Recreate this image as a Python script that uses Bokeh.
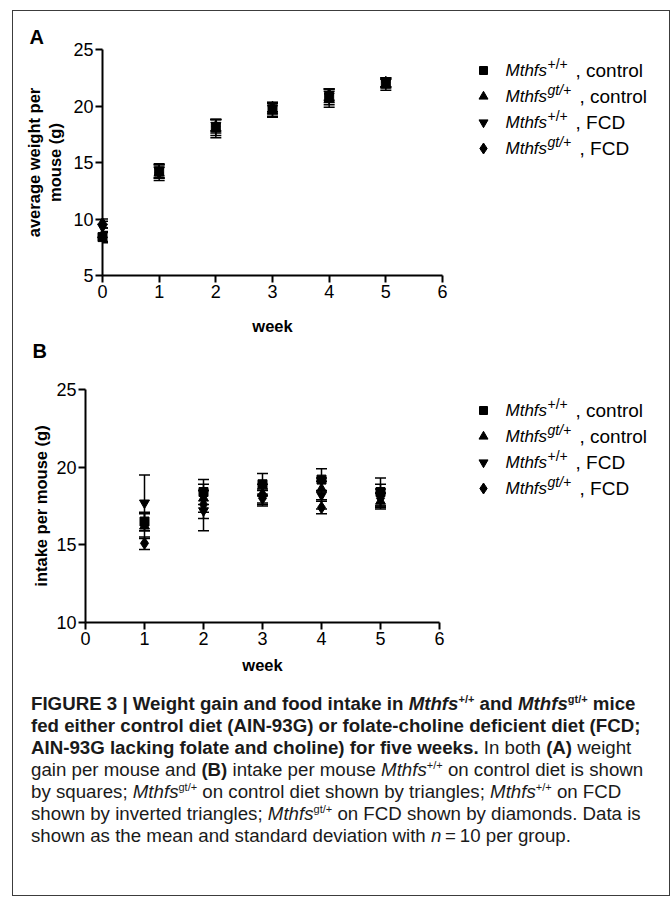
from bokeh.plotting import figure
from bokeh.models import ColumnDataSource, Whisker, TeeHead, Label, Div, FixedTicker, Range1d, Title
from bokeh.layouts import column, row
from bokeh.embed import file_html
from bokeh.resources import INLINE

# ---------------- data ----------------
weeks_a = [0, 1, 2, 3, 4, 5]
a_wt_ctrl = [8.4, 14.2, 18.1, 19.7, 20.8, 22.0]
a_wt_ctrl_sd = [0.5, 0.6, 0.7, 0.6, 0.7, 0.4]
a_gt_ctrl = [8.6, 14.1, 18.0, 19.6, 20.6, 21.9]
a_gt_ctrl_sd = [0.6, 0.7, 0.8, 0.6, 0.7, 0.5]
a_wt_fcd = [9.3, 14.3, 18.3, 19.8, 20.9, 22.1]
a_wt_fcd_sd = [0.5, 0.6, 0.5, 0.5, 0.6, 0.4]
a_gt_fcd = [9.6, 14.1, 18.2, 19.9, 21.0, 22.1]
a_gt_fcd_sd = [0.4, 0.5, 0.6, 0.4, 0.5, 0.4]

weeks_b = [1, 2, 3, 4, 5]
b_wt_ctrl = [16.5, 18.4, 18.9, 19.2, 18.4]
b_wt_ctrl_sd = [0.6, 0.8, 0.7, 0.7, 0.9]
b_gt_ctrl = [16.2, 18.0, 18.3, 18.6, 17.8]
b_gt_ctrl_sd = [0.8, 0.9, 0.6, 0.7, 0.5]
b_wt_fcd = [17.7, 17.2, 18.1, 18.2, 18.2]
b_wt_fcd_sd = [1.8, 1.3, 0.5, 0.9, 0.7]
b_gt_fcd = [15.1, 17.6, 18.0, 17.4, 18.0]
b_gt_fcd_sd = [0.4, 0.9, 0.5, 0.4, 0.6]

x_ticks = [0, 1, 2, 3, 4, 5, 6]
a_y_ticks = [5, 10, 15, 20, 25]
b_y_ticks = [10, 15, 20, 25]

genotypes = ["+/+", "gt/+", "+/+", "gt/+"]
diets = ["control", "control", "FCD", "FCD"]
markers = ["square", "triangle", "inverted_triangle", "diamond"]
msizes = [9, 10, 10, 12]

FONT = "Liberation Sans"
OX, OY = 13, 11      # page position of the column content
PANEL_W = 447        # width of each plot figure
LEG_W = 199          # width of each legend figure
LEG_X0 = OX + PANEL_W


def style_axes(p, ylabel):
    p.outline_line_color = None
    p.grid.visible = False
    for ax in (p.xaxis[0], p.yaxis[0]):
        ax.axis_line_width = 2
        ax.major_tick_line_width = 2
        ax.major_tick_out = 7
        ax.major_tick_in = 0
        ax.minor_tick_line_color = None
        ax.major_label_text_font = FONT
        ax.major_label_text_font_size = "18px"
        ax.major_label_text_color = "black"
        ax.major_label_standoff = 2
        ax.axis_label_text_font = FONT
        ax.axis_label_text_font_style = "bold"
        ax.axis_label_text_font_size = "16.5px"
        ax.axis_label_text_color = "black"
    p.xaxis[0].axis_label = "week"
    p.yaxis[0].axis_label = ylabel
    p.yaxis[0].axis_label_standoff = 3


def panel_letter(text, offset, standoff):
    t = Title(text=text, align="left", offset=offset, standoff=standoff,
              text_font=FONT, text_font_size="20px", text_font_style="bold",
              text_line_height=1.0, text_color="black")
    return t


def make_panel(fr, height, xs, series, yticks, ylabel):
    L, R, T, B, x0, x1, y0, y1, top = fr
    p = figure(width=PANEL_W, height=height, x_range=Range1d(x0, x1), y_range=Range1d(y0, y1),
               output_backend="svg", toolbar_location=None,
               min_border_left=L - OX, min_border_right=PANEL_W - (R - OX),
               min_border_top=T - top, min_border_bottom=height - (B - top))
    p.xaxis.ticker = FixedTicker(ticks=x_ticks)
    p.yaxis.ticker = FixedTicker(ticks=yticks)
    style_axes(p, ylabel)

    for (vals, sds), mk, ms in zip(series, markers, msizes):
        src = ColumnDataSource(dict(x=xs, y=vals,
                                    upper=[v + s for v, s in zip(vals, sds)],
                                    lower=[v - s for v, s in zip(vals, sds)]))
        w = Whisker(base="x", upper="upper", lower="lower", source=src, dimension="height",
                    line_width=1.5, line_color="black",
                    upper_head=TeeHead(size=11, line_width=1.5, line_color="black"),
                    lower_head=TeeHead(size=11, line_width=1.5, line_color="black"))
        p.add_layout(w)
        p.scatter("x", "y", source=src, marker=mk, size=ms, color="black", level="overlay")
    return p


def make_legend(fr, height):
    # legend figure: ranges are page pixel positions (y downwards); its frame is
    # aligned with the panel's frame by the row layout
    L, R, T, B, x0, x1, y0, y1, top = fr
    lg = figure(width=LEG_W, height=height, x_range=Range1d(LEG_X0, LEG_X0 + LEG_W),
                y_range=Range1d(B, T), output_backend="svg", toolbar_location=None,
                min_border_left=0, min_border_right=0,
                min_border_top=T - top, min_border_bottom=height - (B - top),
                x_axis_type=None, y_axis_type=None)
    lg.grid.visible = False
    lg.outline_line_color = None
    x_mark, x_name, x_sup = 483, 505, 547
    for i in range(4):
        py = T + 21 + 26 * i
        lg.scatter([x_mark], [py], marker=markers[i], size=msizes[i] - 1, color="black")
        lg.add_layout(Label(x=x_name, y=py, text="Mthfs", text_font=FONT, text_font_style="italic",
                            text_font_size="17px", text_baseline="middle", text_align="left",
                            text_color="black"))
        lg.add_layout(Label(x=x_sup, y=py - 7, text=genotypes[i], text_font=FONT,
                            text_font_style="italic" if genotypes[i] == "gt/+" else "normal",
                            text_font_size="14px", text_baseline="middle", text_align="left",
                            text_color="black"))
        lg.add_layout(Label(x=575 if genotypes[i] == "+/+" else 579, y=py, text=", " + diets[i],
                            text_font=FONT, text_font_size="19px", text_baseline="middle",
                            text_align="left", text_color="black"))
    return lg


series_a = [(a_wt_ctrl, a_wt_ctrl_sd), (a_gt_ctrl, a_gt_ctrl_sd),
            (a_wt_fcd, a_wt_fcd_sd), (a_gt_fcd, a_gt_fcd_sd)]
series_b = [(b_wt_ctrl, b_wt_ctrl_sd), (b_gt_ctrl, b_gt_ctrl_sd),
            (b_wt_fcd, b_wt_fcd_sd), (b_gt_fcd, b_gt_fcd_sd)]

H_A, H_B = 366, 303
# frame geometry in page pixels: L, R, T, B, x0, x1, y0, y1, figure top
fr_a = (102, 442, 49, 275, 0, 6, 5, 25, OY)
fr_b = (85, 439, 389, 622, 0, 6, 10, 25, OY + H_A)

pa = make_panel(fr_a, H_A, weeks_a, series_a, a_y_ticks, "average weight per\nmouse (g)")
pb = make_panel(fr_b, H_B, weeks_b, series_b, b_y_ticks, "intake per mouse (g)")
pa.xaxis[0].axis_label_standoff = 16
pb.xaxis[0].axis_label_standoff = 8
pa.yaxis[0].axis_label_standoff = 6

# panel letters: "A" above panel A, "B" in the space under panel A's axis
pa.add_layout(panel_letter("A", 29 - fr_a[0], 4), "above")
pa.add_layout(panel_letter("B", 32 - fr_a[0], 0), "below")

leg_a = make_legend(fr_a, H_A)
leg_b = make_legend(fr_b, H_B)

SUP = '<sup style="font-size:11px;line-height:0;">'
caption_html = f"""
<div style="font-family:'Liberation Sans',Arial,sans-serif;font-size:18.7px;line-height:22px;color:#1a1a1a;white-space:nowrap;padding-left:13px;padding-top:8px;">
<b>FIGURE 3 | Weight gain and food intake in <i>Mthfs</i>{SUP}+/+</sup> and <i>Mthfs</i>{SUP}gt/+</sup> mice</b><br>
<b>fed either control diet (AIN-93G) or folate-choline deficient diet (FCD;</b><br>
<b>AIN-93G lacking folate and choline) for five weeks.</b> In both <b>(A)</b> weight<br>
gain per mouse and <b>(B)</b> intake per mouse <i>Mthfs</i>{SUP}+/+</sup> on control diet is shown<br>
by squares; <i>Mthfs</i>{SUP}gt/+</sup> on control diet shown by triangles; <i>Mthfs</i>{SUP}+/+</sup> on FCD<br>
shown by inverted triangles; <i>Mthfs</i>{SUP}gt/+</sup> on FCD shown by diamonds. Data is<br>
shown as the mean and standard deviation with <i>n</i>&#8201;=&#8201;10 per group.
</div>
"""
cap = Div(text=caption_html, width=646, height=205)

layout = column(row(pa, leg_a), row(pb, leg_b), cap, margin=(10, 0, 0, 12),
                styles={"border": "1px solid #3c3c3c"})

open("out.html", "w").write(file_html(layout, INLINE))
